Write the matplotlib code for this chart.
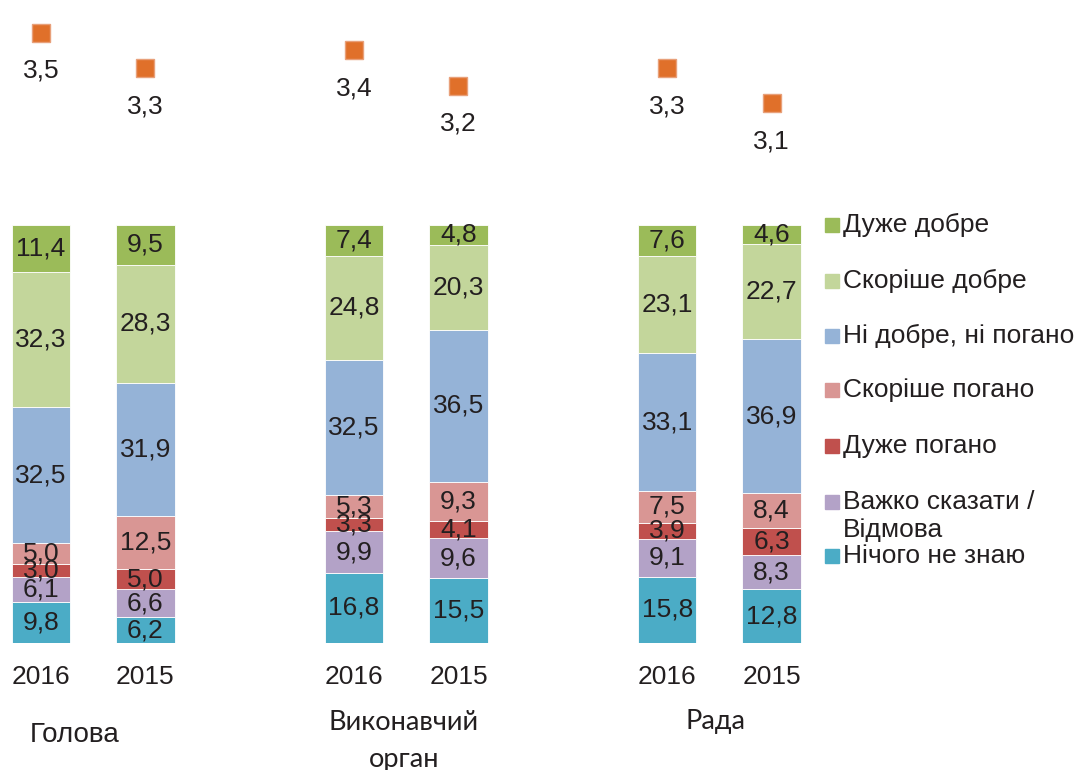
import matplotlib
matplotlib.use("Agg")
import matplotlib.pyplot as plt
from matplotlib.patches import Rectangle

# Answer categories, bottom of the stack first
categories = [
    "Нічого не знаю",
    "Важко сказати /\nВідмова",
    "Дуже погано",
    "Скоріше погано",
    "Ні добре, ні погано",
    "Скоріше добре",
    "Дуже добре",
]
colors = ["#4BACC6", "#B3A2C7", "#C0504D", "#D99694", "#95B3D7", "#C3D69B", "#9BBB59"]

years = ["2016", "2015", "2016", "2015", "2016", "2015"]
groups = ["Голова", "Виконавчий\nорган", "Рада"]

# Shares (%) per bar, one list per category (same order as `categories`)
nothing_known = [9.8, 6.2, 16.8, 15.5, 15.8, 12.8]
hard_to_say = [6.1, 6.6, 9.9, 9.6, 9.1, 8.3]
very_bad = [3.0, 5.0, 3.3, 4.1, 3.9, 6.3]
rather_bad = [5.0, 12.5, 5.3, 9.3, 7.5, 8.4]
neutral = [32.5, 31.9, 32.5, 36.5, 33.1, 36.9]
rather_good = [32.3, 28.3, 24.8, 20.3, 23.1, 22.7]
very_good = [11.4, 9.5, 7.4, 4.8, 7.6, 4.6]

# Average score per bar
mean_score = [3.5, 3.3, 3.4, 3.2, 3.3, 3.1]

series = [nothing_known, hard_to_say, very_bad, rather_bad, neutral, rather_good, very_good]

W, H = 1080, 770
fig = plt.figure(figsize=(W / 100, H / 100), dpi=100)
ax = fig.add_axes([0, 127 / H, 830 / W, 633 / H])

font = "Liberation Sans"
txt_color = "#231F20"
fs = 19

positions = [0, 1, 3, 4, 6, 7]
bar_w = 0.56

bottoms = [0.0] * len(positions)
for vals, col in zip(series, colors):
    ax.bar(positions, vals, bar_w, bottom=bottoms, color=col,
           edgecolor="white", linewidth=0.6, zorder=2)
    for x, b, v in zip(positions, bottoms, vals):
        ax.text(x, b + v / 2, f"{v:.1f}".replace(".", ","), ha="center",
                va="center", fontsize=fs, family=font, color=txt_color, zorder=3)
    bottoms = [b + v for b, v in zip(bottoms, vals)]

ax.set_xlim(-41 / 104.3, 7.56)
ax.set_ylim(0, 633 / 4.18)
ax.set_xticks(positions, years)
ax.tick_params(axis="x", length=0, pad=16, labelsize=fs, labelcolor=txt_color)
for lab in ax.get_xticklabels():
    lab.set_family(font)
ax.set_yticks([])
for s in ax.spines.values():
    s.set_visible(False)

# Average score on a secondary scale
ax2 = ax.twinx()
ax2.set_ylim(0.033, 3.63)
ax2.plot(positions, mean_score, linestyle="none", marker="s", markersize=13,
         markerfacecolor="#E0702A", markeredgecolor="#E8A07A", markeredgewidth=1,
         zorder=4)
for x, v in zip(positions, mean_score):
    ax2.annotate(f"{v:.1f}".replace(".", ","), (x, v), xytext=(0, -38 * 0.72),
                 textcoords="offset points", ha="center", va="center",
                 fontsize=fs, family=font, color=txt_color)
ax2.set_yticks([])
for s in ax2.spines.values():
    s.set_visible(False)

# Group captions under the year labels
fig.text(75 / W, 1 - 735 / H, groups[0], ha="center", va="center",
         fontsize=20, family=font, color=txt_color)
fig.text(404 / W, 1 - 741 / H, groups[1], ha="center", va="center",
         fontsize=19.5, family="Lato", color=txt_color, linespacing=1.6)
fig.text(716 / W, 1 - 722 / H, groups[2], ha="center", va="center",
         fontsize=19.5, family="Lato", color=txt_color)

# Legend, top entry first
legend_y = [225, 281, 336, 390, 446, 502, 556]
for cat, col, y in zip(categories[::-1], colors[::-1], legend_y):
    fig.patches.append(Rectangle((825 / W, 1 - (y + 7) / H), 14 / W, 14 / H,
                                 transform=fig.transFigure, color=col))
    fig.text(843 / W, 1 - (y - 12) / H, cat, ha="left", va="top",
             fontsize=fs, family=font, color=txt_color, linespacing=1.2)

fig.savefig("out.png", dpi=100)
